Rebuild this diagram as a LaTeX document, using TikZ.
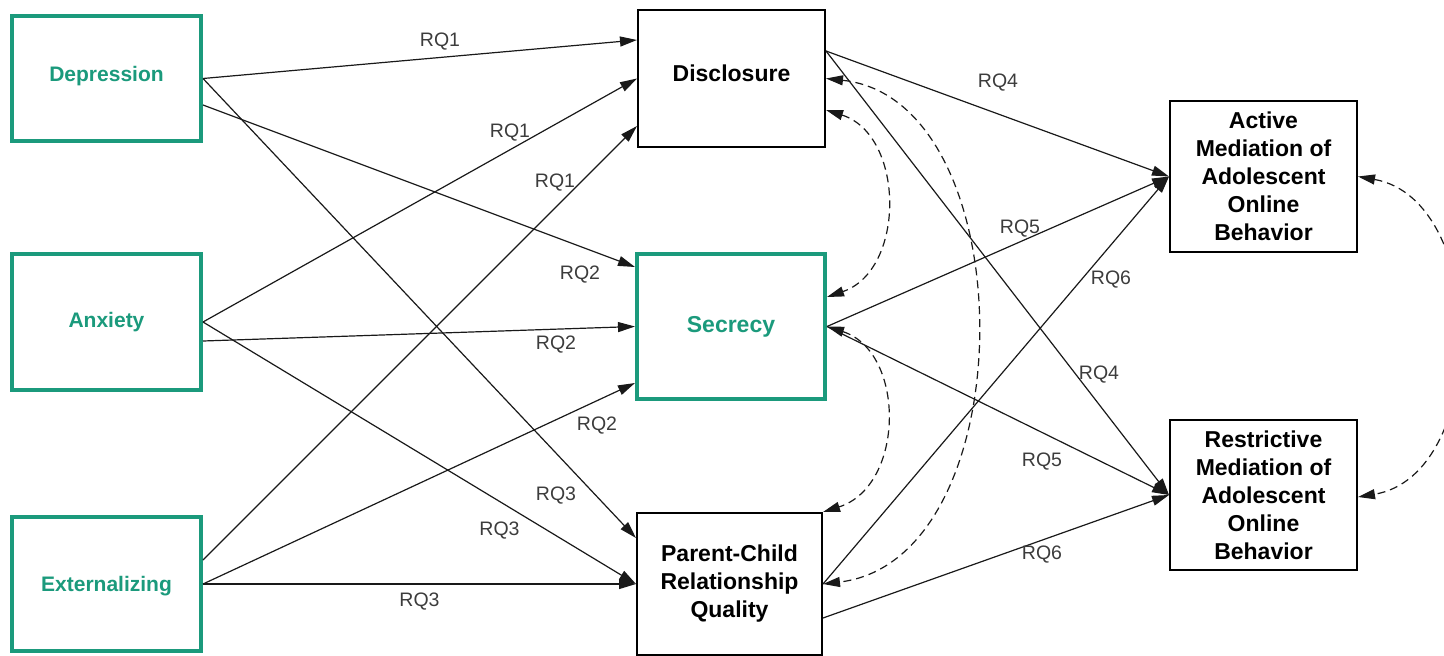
\documentclass[tikz,border=0pt]{standalone}
\usepackage{fontspec}
\setmainfont{Liberation Sans}
\usetikzlibrary{arrows.meta,calc}
\definecolor{tealg}{RGB}{27,154,124}
\definecolor{lblgray}{RGB}{60,60,60}
\definecolor{linec}{RGB}{25,25,25}
\begin{document}
\begin{tikzpicture}[x=1pt,y=-1pt,
  gbox/.style={draw=tealg, line width=4pt, fill=white, text=tealg, font=\bfseries\fontsize{21}{26}\selectfont, inner sep=0pt, align=center, text depth=0pt},
  bbox/.style={draw=black, line width=2pt, fill=white, text=black, font=\bfseries\fontsize{23}{28}\selectfont, inner sep=0pt, align=center},
  rq/.style={text=lblgray, font=\fontsize{19.5}{23}\selectfont, inner sep=0pt, text height=14pt, text depth=0pt},
  conn/.style={draw=linec, line width=1.2pt, -{Triangle[length=17pt,width=10pt]}},
  dconn/.style={draw=linec, line width=1.2pt, dash pattern=on 8pt off 5pt, {Triangle[length=17pt,width=10pt]}-{Triangle[length=17pt,width=10pt]}},
]
\useasboundingbox (0,0) rectangle (1444,656);

% boxes
\node[gbox, minimum width=189pt, minimum height=125pt, text height=6.4pt] (dep) at (106.5,78.5) {Depression};
\node[gbox, minimum width=189pt, minimum height=136pt, text height=10.6pt] (anx) at (106.5,322) {Anxiety};
\node[gbox, minimum width=189pt, minimum height=134pt, text height=15.4pt] (ext) at (106.5,584) {Externalizing};
\node[bbox, minimum width=187pt, minimum height=137pt, text height=5pt, text depth=0pt] (disc) at (731.5,78.5) {Disclosure};
\node[gbox, font=\bfseries\fontsize{23}{28}\selectfont, minimum width=188pt, minimum height=145pt, text height=12.4pt] (sec) at (731,326.5) {Secrecy};
\node[bbox, minimum width=185pt, minimum height=142pt] (par) at (729.5,584) {Parent-Child\\Relationship\\Quality};
\node[bbox, minimum width=187pt, minimum height=151pt] (act) at (1263.5,176.5) {Active\\Mediation of\\Adolescent\\Online\\Behavior};
\node[bbox, minimum width=187pt, minimum height=150pt] (res) at (1263.5,495) {Restrictive\\Mediation of\\Adolescent\\Online\\Behavior};

% predictors -> mediators
\draw[conn] (dep.east) -- ([yshift=38.5pt]disc.west);
\draw[conn] ([yshift=-26.5pt]dep.east) -- ([yshift=59.5pt]sec.west);
\draw[conn] (dep.east) -- ([yshift=46pt]par.west);
\draw[conn] (anx.east) -- (disc.west);
\draw[conn] ([yshift=-19pt]anx.east) -- (sec.west);
\draw[conn] (anx.east) -- (par.west);
\draw[conn] ([yshift=24pt]ext.east) -- ([yshift=-47.5pt]disc.west);
\draw[conn] (ext.east) -- ([yshift=-56.5pt]sec.west);
\draw[conn] (ext.east) -- (par.west);

% mediators -> outcomes
\draw[conn] ([yshift=27.5pt]disc.east) -- (act.west);
\draw[conn] ([yshift=27.5pt]disc.east) -- (res.west);
\draw[conn] (sec.east) -- (act.west);
\draw[conn] (sec.east) -- (res.west);
\draw[conn] (par.east) -- (act.west);
\draw[conn] ([yshift=-34pt]par.east) -- (res.west);

% covariances
\draw[dconn] ([yshift=-31.5pt]disc.east) .. controls +(79,25) and +(79,-27) .. ([yshift=29.5pt]sec.east);
\draw[dconn] (disc.east) .. controls +(200,21.5) and +(203,-24) .. (par.east);
\draw[dconn] (sec.east) .. controls +(79,25.5) and +(82,-26) .. (par.north east);
\draw[dconn] (act.east) .. controls +(132,23.5) and +(132,-22) .. ([yshift=-2pt]res.east);

% labels
\node[rq] (l1) at (440,39) {RQ1};
\node[rq] (l2) at (510,130) {RQ1};
\node[rq] (l3) at (555,180) {RQ1};
\node[rq] (l4) at (580,272) {RQ2};
\node[rq] (l5) at (556,342) {RQ2};
\node[rq] (l6) at (597,423) {RQ2};
\node[rq] (l7) at (556,493) {RQ3};
\node[rq] (l8) at (499.5,528.5) {RQ3};
\node[rq] (l9) at (419.5,599) {RQ3};
\node[rq] (l10) at (998,80) {RQ4};
\node[rq] (l11) at (1020,226) {RQ5};
\node[rq] (l12) at (1111,277) {RQ6};
\node[rq] (l13) at (1099,372) {RQ4};
\node[rq] (l14) at (1042,459) {RQ5};
\node[rq] (l15) at (1042,552) {RQ6};
\end{tikzpicture}
\end{document}
